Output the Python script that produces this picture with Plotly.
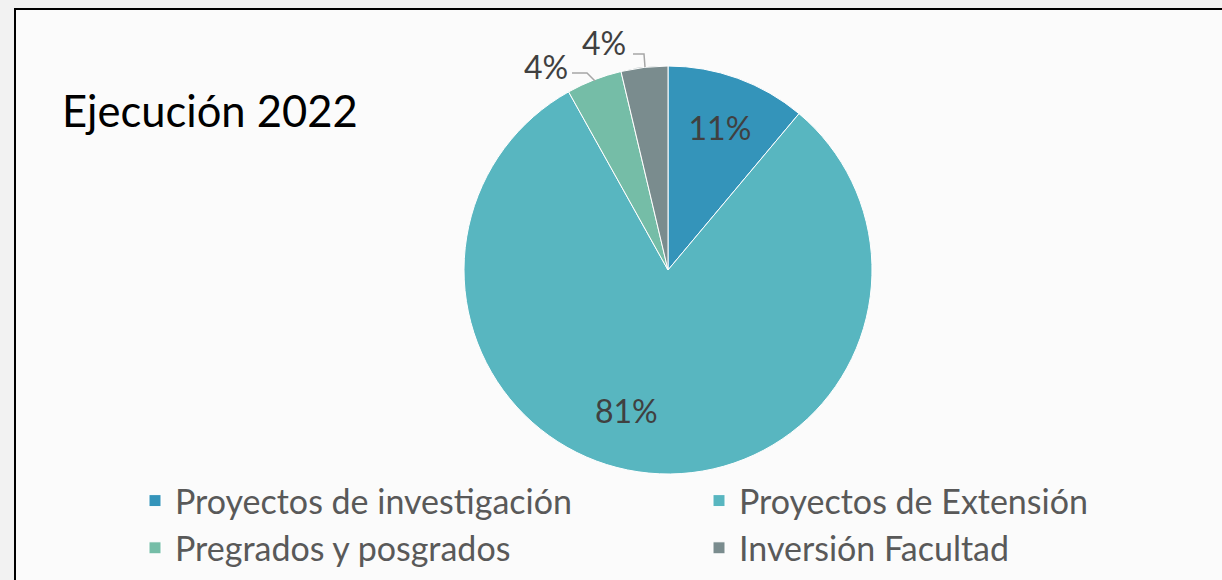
import plotly.graph_objects as go

W, H = 1222, 580

categories = ["Proyectos de investigación", "Proyectos de Extensión",
              "Pregrados y posgrados", "Inversión Facultad"]
values = [11.1, 80.8, 4.4, 3.7]
colors = ["#3494BA", "#58B6C0", "#75BDA7", "#7A8C8E"]
title_text = "Ejecución 2022"

total = sum(values)
pct = [f"{round(v / total * 100)}%" for v in values]
inside_text = [pct[0], "", "", ""]


def px(x):
    return x / W


def py(y):
    return 1 - y / H


FONT = "Lato"
LABEL_FONT = dict(family=FONT, size=32, color="#404040")

fig = go.Figure(go.Pie(
    labels=categories, values=values, sort=False, direction="clockwise", rotation=0,
    marker=dict(colors=colors, line=dict(color="white", width=1)),
    text=inside_text, textinfo="text", textposition="inside",
    insidetextorientation="horizontal",
    textfont=LABEL_FONT,
    domain=dict(x=[px(464), px(872)], y=[py(474), py(66)]),
    hoverinfo="label+percent",
))

shapes = [
    dict(type="rect", xref="paper", yref="paper", x0=px(15), x1=1.2, y0=-0.2, y1=py(9),
         line=dict(color="black", width=2), fillcolor="#fbfbfb", layer="below"),
    dict(type="path", xref="paper", yref="paper",
         path=f"M {px(572)},{py(73)} L {px(587)},{py(73)} L {px(595)},{py(81)}",
         line=dict(color="#A6A6A6", width=1.5)),
    dict(type="path", xref="paper", yref="paper",
         path=f"M {px(633)},{py(54)} L {px(644)},{py(54)} L {px(645)},{py(67)}",
         line=dict(color="#A6A6A6", width=1.5)),
]

annotations = [
    dict(text=pct[1], x=px(626), y=py(410), xref="paper", yref="paper", showarrow=False,
         font=LABEL_FONT, xanchor="center", yanchor="middle"),
    dict(text=pct[2], x=px(546), y=py(66), xref="paper", yref="paper", showarrow=False,
         font=LABEL_FONT, xanchor="center", yanchor="middle"),
    dict(text=pct[3], x=px(604), y=py(43), xref="paper", yref="paper", showarrow=False,
         font=LABEL_FONT, xanchor="center", yanchor="middle"),
]

fig.update_layout(
    width=W, height=H,
    margin=dict(l=0, r=0, t=0, b=0, autoexpand=False),
    paper_bgcolor="#f2f2f2",
    plot_bgcolor="rgba(0,0,0,0)",
    title=dict(text=title_text, x=px(62), xanchor="left", y=py(112), yanchor="middle",
               font=dict(family=FONT, size=43.5, color="black")),
    legend=dict(orientation="h", x=px(135), y=py(472), xanchor="left", yanchor="top",
                font=dict(family=FONT, size=34, color="#595959"),
                entrywidth=519, bgcolor="rgba(0,0,0,0)"),
    shapes=shapes,
    annotations=annotations,
)

fig.write_html(
    "out.html",
    config={"displayModeBar": False},
    post_script="document.body.style.margin='0';document.body.style.overflow='hidden';",
)
